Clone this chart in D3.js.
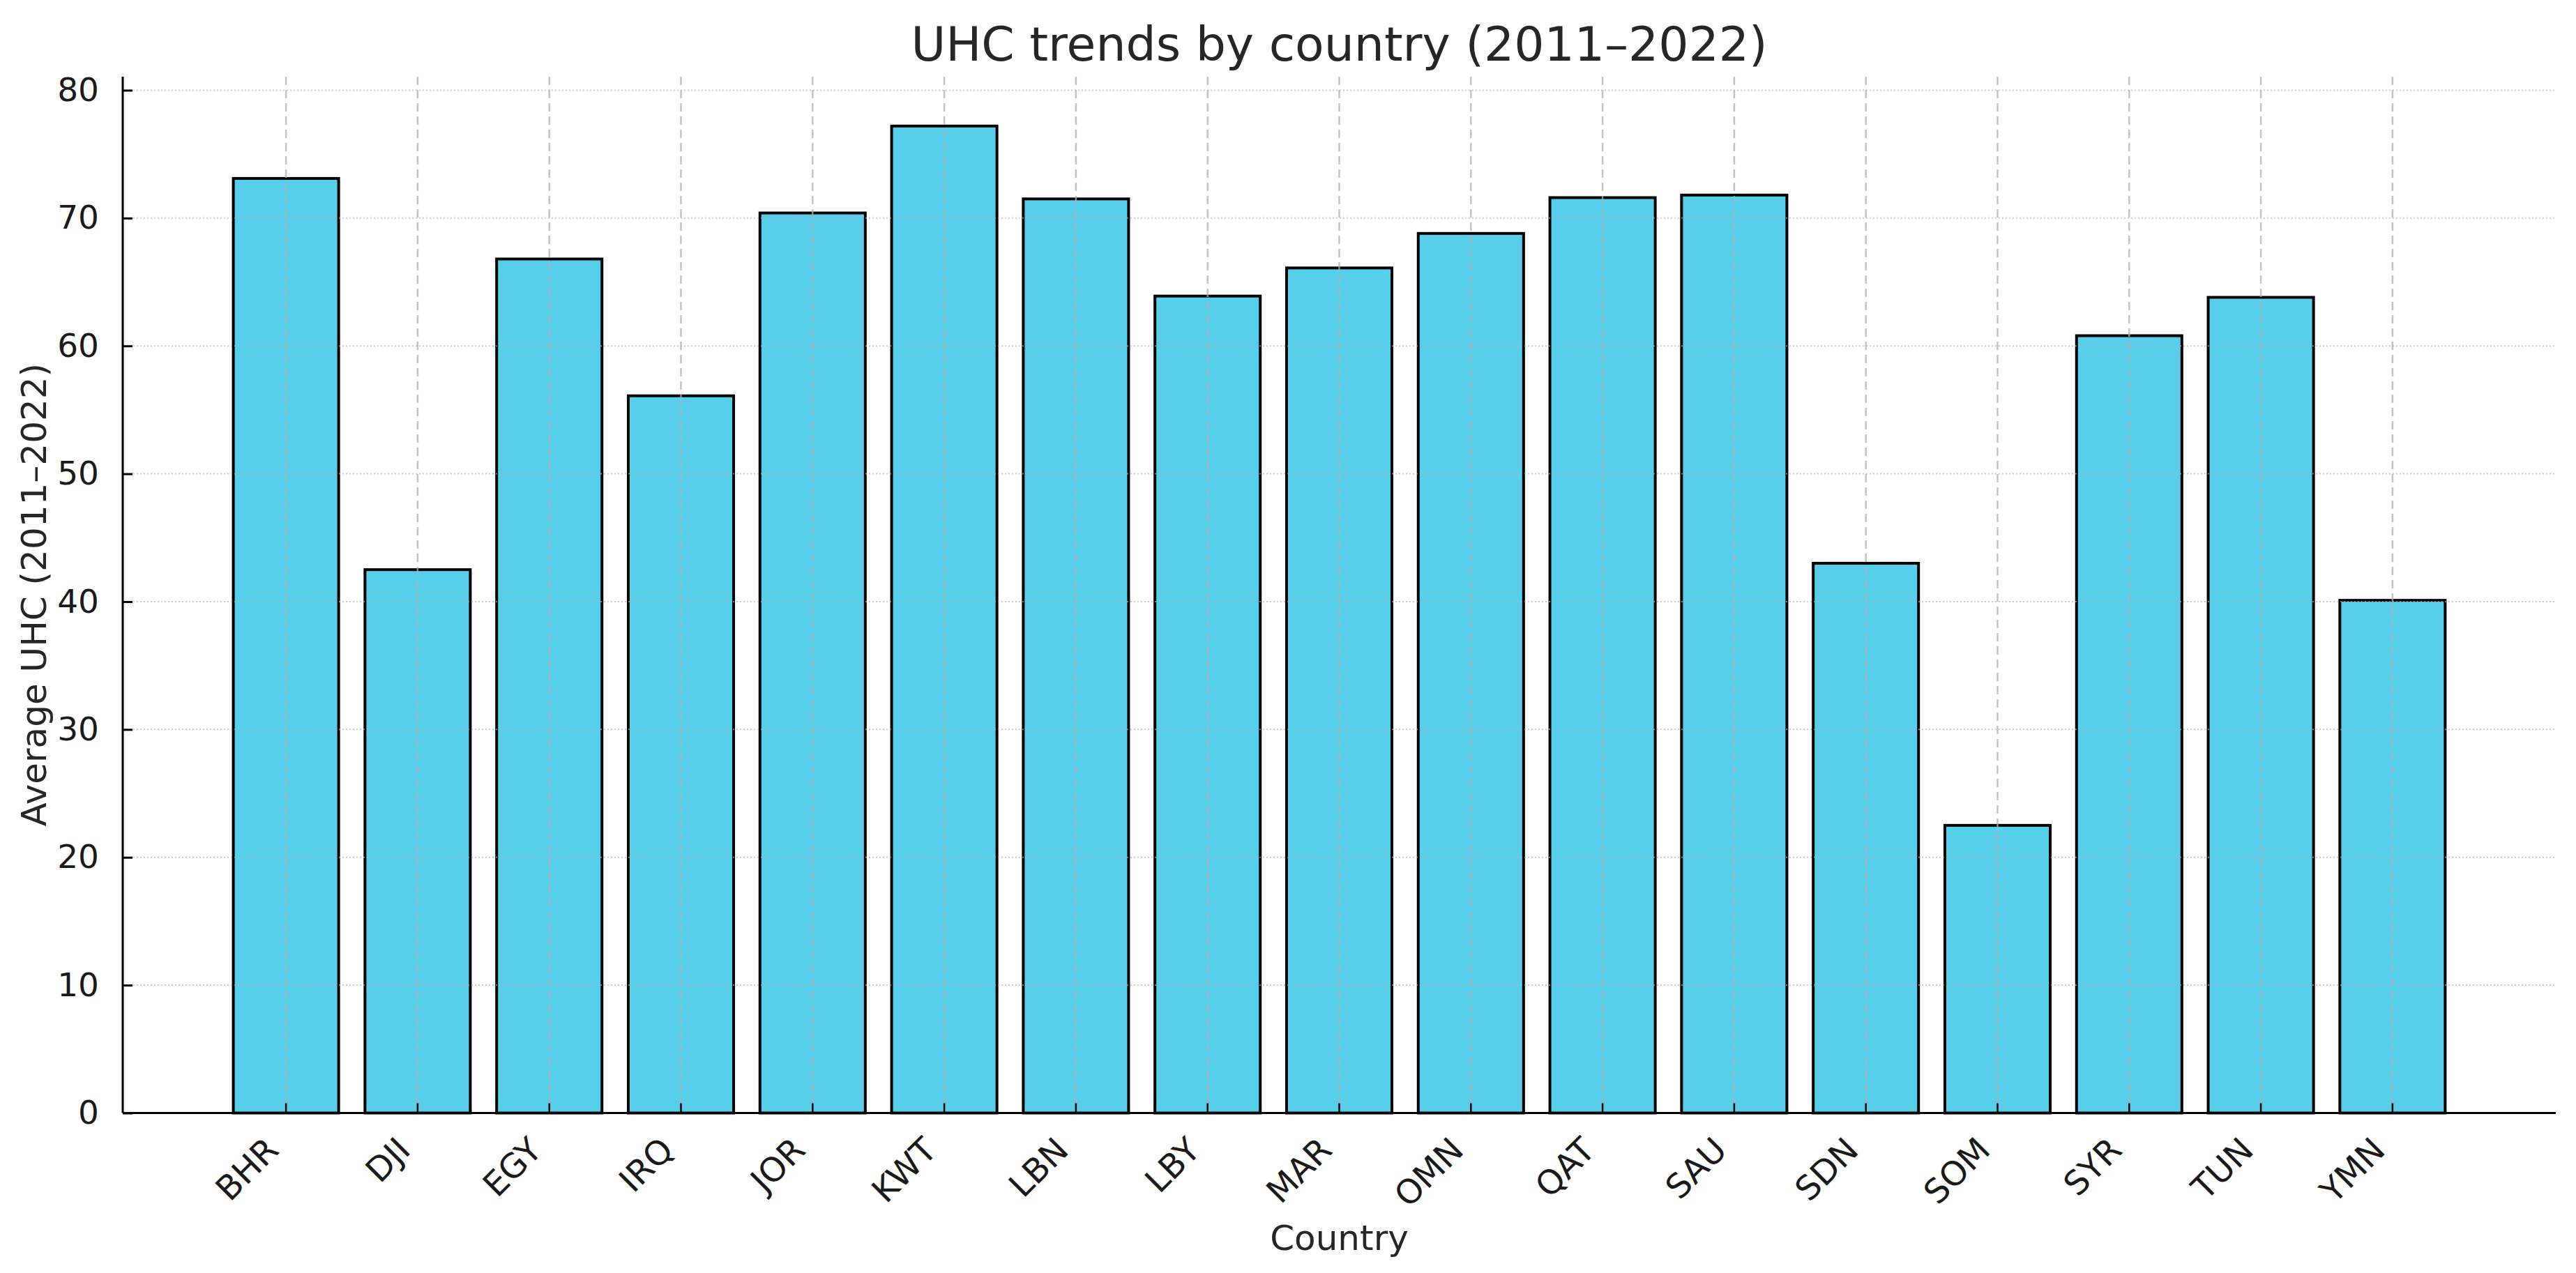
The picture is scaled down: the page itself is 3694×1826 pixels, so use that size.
<!DOCTYPE html>
<html>
<head>
<meta charset="utf-8">
<script src="https://cdn.jsdelivr.net/npm/d3@7"></script>
<style>
  html, body { margin: 0; padding: 0; background: #ffffff; }
  svg { display: block; font-family: "DejaVu Sans", sans-serif; }
</style>
</head>
<body>
<svg id="chart" width="3694" height="1826"></svg>
<script>
const countries = ["BHR","DJI","EGY","IRQ","JOR","KWT","LBN","LBY","MAR","OMN","QAT","SAU","SDN","SOM","SYR","TUN","YMN"];
const uhcValues = [73.1, 42.5, 66.8, 56.1, 70.4, 77.2, 71.5, 63.9, 66.1, 68.8, 71.6, 71.8, 43.0, 22.5, 60.8, 63.8, 40.1];
const yTicks = [0, 10, 20, 30, 40, 50, 60, 70, 80];
const titleText = "UHC trends by country (2011\u20132022)";
const xLabelText = "Country";
const yLabelText = "Average UHC (2011\u20132022)";

(function () {
const svg = d3.select("#chart");
const mLeft = 176, mRight = 3665, mTop = 110, mBottom = 1596.5;

const yMax = d3.max(uhcValues) * 1.05;
const y = d3.scaleLinear().domain([0, yMax]).range([mBottom, mTop]);
const x = d3.scaleBand().domain(countries).range([mLeft, mRight])
  .paddingInner(0.2).paddingOuter(0.84);
const cx = d => x(d) + x.bandwidth() / 2;

// bars
svg.append("g").selectAll("rect").data(countries).join("rect")
  .attr("x", d => x(d))
  .attr("width", x.bandwidth())
  .attr("y", (d, i) => y(uhcValues[i]))
  .attr("height", (d, i) => mBottom - y(uhcValues[i]))
  .attr("fill", "#57CFEB")
  .attr("stroke", "#000")
  .attr("stroke-width", 4);

// grid (on top of bars)
const grid = svg.append("g");
grid.selectAll("line.h").data(yTicks).join("line")
  .attr("class", "h")
  .attr("x1", mLeft).attr("x2", mRight)
  .attr("y1", d => y(d)).attr("y2", d => y(d))
  .attr("stroke", "#b0b0b0").attr("stroke-opacity", 0.65)
  .attr("stroke-width", 2).attr("stroke-dasharray", "2,3");
grid.selectAll("line.v").data(countries).join("line")
  .attr("class", "v")
  .attr("x1", d => cx(d)).attr("x2", d => cx(d))
  .attr("y1", mTop).attr("y2", mBottom)
  .attr("stroke", "#b0b0b0").attr("stroke-opacity", 0.75)
  .attr("stroke-width", 2.5).attr("stroke-dasharray", "12,7");

// y axis
const yAxis = svg.append("g").attr("transform", `translate(${mLeft},0)`)
  .call(d3.axisLeft(y).tickValues(yTicks).tickSize(-14).tickPadding(34));
yAxis.select(".domain").attr("stroke", "#000").attr("stroke-width", 3)
  .attr("d", `M0,${mBottom}V${mTop}`);
yAxis.selectAll(".tick line").attr("stroke", "#000").attr("stroke-width", 3);
yAxis.selectAll(".tick text").attr("font-size", 47).attr("fill", "#1a1a1a")
  .attr("font-family", "DejaVu Sans");

// x axis
const xAxis = svg.append("g").attr("transform", `translate(0,${mBottom})`)
  .call(d3.axisBottom(x).tickSize(-14).tickPadding(0));
xAxis.select(".domain").attr("stroke", "#000").attr("stroke-width", 3)
  .attr("d", `M${mLeft},0H${mRight}`);
xAxis.selectAll(".tick line").attr("stroke", "#000").attr("stroke-width", 2.5);
xAxis.selectAll(".tick text")
  .attr("font-size", 48).attr("fill", "#1a1a1a").attr("font-family", "DejaVu Sans")
  .attr("text-anchor", "end").attr("dy", null).attr("y", null)
  .attr("transform", "translate(-8,56) rotate(-45)");

// title
svg.append("text").attr("x", (mLeft + mRight) / 2).attr("y", 87)
  .attr("text-anchor", "middle").attr("font-size", 68).attr("fill", "#262626")
  .text(titleText);

// axis labels
svg.append("text").attr("x", (mLeft + mRight) / 2).attr("y", 1793)
  .attr("text-anchor", "middle").attr("font-size", 50).attr("fill", "#262626")
  .text(xLabelText);
svg.append("text")
  .attr("transform", `translate(66,${(mTop + mBottom) / 2}) rotate(-90)`)
  .attr("text-anchor", "middle").attr("font-size", 50).attr("fill", "#262626")
  .text(yLabelText);
})();
</script>
</body>
</html>
